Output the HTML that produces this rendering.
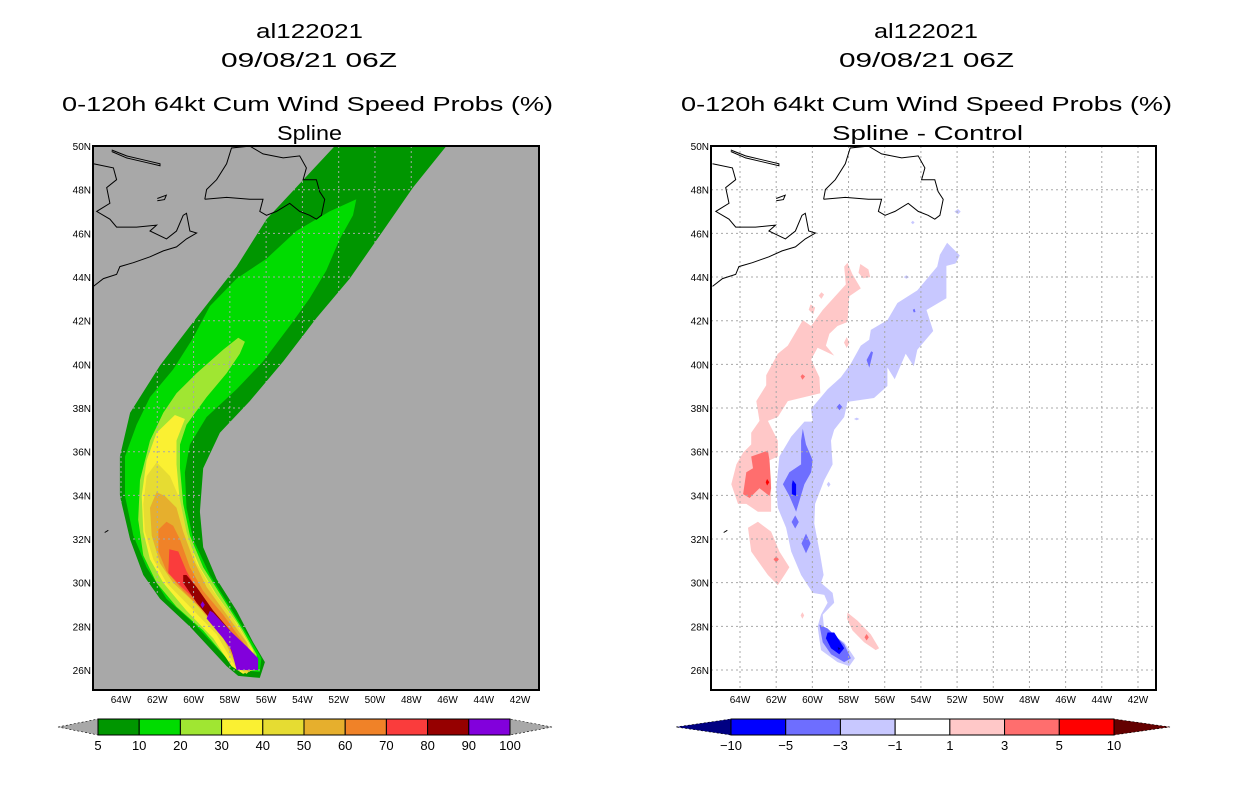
<!DOCTYPE html>
<html><head><meta charset="utf-8"><style>
body{margin:0;background:#fff;width:1236px;height:800px;overflow:hidden}
svg text{font-family:"Liberation Sans",sans-serif;fill:#000}
</style></head><body>
<svg id="svg" xmlns="http://www.w3.org/2000/svg" width="1236" height="800" viewBox="0 0 1236 800">
<defs>
<clipPath id="clipL"><rect x="93" y="146" width="446" height="544"/></clipPath>
<clipPath id="clipR"><rect x="711" y="146" width="445" height="544"/></clipPath>
</defs>
<g font-size="20">
<text x="256" y="38" textLength="107" lengthAdjust="spacingAndGlyphs">al122021</text>
<text x="221" y="67" textLength="176" lengthAdjust="spacingAndGlyphs">09/08/21 06Z</text>
<text x="62" y="111" textLength="491" lengthAdjust="spacingAndGlyphs">0-120h 64kt Cum Wind Speed Probs (%)</text>
<text x="277" y="140" textLength="65" lengthAdjust="spacingAndGlyphs">Spline</text>
</g>
<g font-size="20">
<text x="874" y="38" textLength="104" lengthAdjust="spacingAndGlyphs">al122021</text>
<text x="839" y="67" textLength="175" lengthAdjust="spacingAndGlyphs">09/08/21 06Z</text>
<text x="681" y="111" textLength="491" lengthAdjust="spacingAndGlyphs">0-120h 64kt Cum Wind Speed Probs (%)</text>
<text x="832" y="140" textLength="191" lengthAdjust="spacingAndGlyphs">Spline - Control</text>
</g>
<rect x="93" y="146" width="446" height="544" fill="#a8a8a8"/>
<g id="gL" clip-path="url(#clipL)"></g>
<g id="gR" clip-path="url(#clipR)"></g>
<rect x="93" y="146" width="446" height="544" fill="none" stroke="#000" stroke-width="2"/>
<rect x="711" y="146" width="445" height="544" fill="none" stroke="#000" stroke-width="2"/>
<g id="axes" font-size="10"></g>
<g id="cbars"></g>
</svg>
<script>
// ---------- data (lon, lat pairs) ----------
const probLevels = [5,10,20,30,40,50,60,70,80,90,100];
const probColors = ["#009600","#00dc00","#a0e632","#faf032","#e6dc32","#e6af2d","#f08228","#fa3c3c","#960000","#8200dc"];
const band5 = [[-52.22,50],[-55.98,46.65],[-57.63,44.48],[-60.02,41.94],[-61.85,39.95],[-63.5,37.78],[-64.06,35.78],[-64.06,33.97],[-63.5,31.98],[-62.77,30.35],[-61.85,29.26],[-60.2,27.99],[-58.18,26.18],[-57.54,25.73],[-56.35,25.64],[-56.07,26.36],[-56.72,27.27],[-57.63,28.72],[-58.73,30.17],[-59.47,31.62],[-59.65,33.25],[-59.47,35.24],[-58.55,36.87],[-56.9,38.32],[-55.06,40.13],[-53.23,42.12],[-51.39,43.93],[-49.56,46.11],[-47.91,48.1],[-46.07,50]];
const band10 = [[-51.03,47.56],[-52.5,47.01],[-54.33,46.11],[-55.98,44.84],[-57.63,43.93],[-59.1,42.67],[-60.02,41.22],[-61.12,39.77],[-62.4,38.5],[-63.14,37.23],[-63.78,35.78],[-63.78,33.97],[-63.32,32.16],[-62.59,30.71],[-61.49,29.26],[-60.02,28.17],[-58.18,26.54],[-57.54,26],[-56.35,25.91],[-56.26,26.54],[-56.9,27.45],[-58,28.9],[-59.1,30.35],[-60.02,31.98],[-60.39,33.43],[-60.48,35.06],[-60.2,36.33],[-59.28,37.59],[-57.63,38.86],[-56.17,40.13],[-54.7,41.76],[-53.6,43.03],[-52.68,44.3],[-51.94,45.75],[-51.21,46.83]];
const band20 = [[-57.54,41.22],[-58.37,40.67],[-59.83,39.59],[-60.94,38.68],[-61.67,37.78],[-62.4,36.51],[-62.95,34.7],[-63.05,32.88],[-62.77,31.25],[-62.04,29.99],[-60.94,28.9],[-59.47,27.81],[-58,26.36],[-57.36,25.91],[-56.44,26],[-56.53,26.72],[-57.27,27.81],[-58.37,29.26],[-59.47,30.71],[-60.2,32.16],[-60.57,33.61],[-60.75,35.24],[-60.75,36.33],[-60.39,37.23],[-59.28,38.5],[-58.18,39.59],[-57.45,40.49],[-57.17,41.04]];
const band30 = [[-61.03,37.68],[-62.04,36.87],[-62.59,35.6],[-62.86,33.97],[-62.77,32.34],[-62.4,31.07],[-61.67,29.99],[-60.39,28.72],[-58.92,27.45],[-57.91,26.18],[-57.27,25.82],[-56.53,26.09],[-56.72,26.91],[-57.63,28.17],[-58.73,29.44],[-59.65,30.71],[-60.39,32.16],[-60.75,33.61],[-60.94,35.42],[-60.94,36.51],[-60.48,37.5]];
const band40 = [[-62.04,35.51],[-62.59,34.88],[-62.77,33.61],[-62.68,32.34],[-62.22,31.07],[-61.49,29.99],[-60.2,28.9],[-58.73,27.63],[-57.72,26.18],[-57.08,25.82],[-56.62,26.18],[-56.9,27.09],[-57.82,28.36],[-58.92,29.62],[-59.83,30.89],[-60.39,32.34],[-60.75,33.79],[-61.3,34.88]];
const band50 = [[-62.04,34.15],[-62.4,33.43],[-62.31,32.16],[-61.85,30.89],[-61.12,29.99],[-59.83,28.99],[-58.46,27.63],[-57.63,26.18],[-56.9,25.91],[-56.72,26.36],[-57.08,27.27],[-58.18,28.54],[-59.28,29.8],[-60.02,31.07],[-60.57,32.34],[-60.94,33.43],[-61.58,33.97]];
const band60 = [[-61.49,32.79],[-61.94,32.43],[-61.94,31.43],[-61.49,30.53],[-60.57,29.62],[-59.47,28.72],[-58.28,27.45],[-57.54,26.18],[-56.9,26],[-56.81,26.45],[-57.27,27.27],[-58.37,28.54],[-59.47,29.62],[-60.2,30.71],[-60.75,31.98],[-61.12,32.61]];
const band70 = [[-61.34,31.53],[-61.39,30.44],[-60.66,29.8],[-59.47,28.9],[-58.18,27.45],[-57.49,26.18],[-56.9,26.04],[-56.9,26.54],[-57.45,27.27],[-58.55,28.36],[-59.65,29.44],[-60.39,30.53],[-60.84,31.43]];
const band80 = [[-60.57,30.35],[-60.57,29.99],[-59.83,29.08],[-58.73,27.99],[-58,27.09],[-57.63,26.18],[-56.9,26.09],[-56.9,26.54],[-57.63,27.45],[-58.92,28.72],[-59.83,29.8],[-60.39,30.35]];
const band90 = [[-59.1,28.72],[-59.28,28.36],[-58.37,27.45],[-57.91,26.91],[-57.63,26],[-56.44,26],[-56.44,26.54],[-57.08,27.09],[-58,27.81],[-58.92,28.63]];
const band90dot = [[-59.62,28.99],[-59.5,29.15],[-59.38,28.99],[-59.5,28.83]];
const probBands = [band5,band10,band20,band30,band40,band50,band60,band70,band80,band90];

const diffLevels = [-10,-5,-3,-1,1,3,5,10];
const diffColors = ["#0000ff","#6e6eff","#c8c8ff","#ffffff","#ffc8c8","#ff6e6e","#ff0000"];
const negLight = [[-52.55,45.57],[-51.85,44.99],[-52.09,44.62],[-52.59,44.51],[-52.59,43.03],[-53.69,42.49],[-53.32,41.53],[-54.2,40.67],[-54.39,39.91],[-54.84,40.49],[-55.45,39.32],[-55.85,39.86],[-55.85,39.01],[-56.59,38.46],[-58.06,38.28],[-58.24,37.59],[-58.79,37.01],[-58.97,36.51],[-58.88,35.42],[-59.34,34.7],[-59.85,33.61],[-59.89,32.7],[-59.56,31.25],[-59.38,30.35],[-59.52,29.99],[-58.88,29.53],[-58.79,29.08],[-59.43,28.54],[-59.34,27.81],[-58.24,27.27],[-57.65,26.54],[-57.96,26.18],[-58.61,26.36],[-59.52,26.91],[-59.71,27.99],[-59.52,28.54],[-59.16,29.08],[-59.34,29.44],[-59.98,29.53],[-60.62,30.35],[-61.17,31.43],[-61.45,32.52],[-61.91,33.43],[-62,34.33],[-61.82,35.78],[-61.17,36.69],[-60.44,37.38],[-59.98,37.38],[-60.07,37.96],[-59.16,38.86],[-58.42,39.41],[-57.87,40.04],[-57.32,40.86],[-56.86,41.13],[-56.77,41.58],[-55.85,42.03],[-55.3,42.81],[-54.2,43.39],[-53.1,44.48],[-52.95,45.02]];
const negLightBits = [[[-52.15,47.0],[-51.95,47.12],[-51.8,47.0],[-51.95,46.88]],[[-54.55,46.5],[-54.45,46.58],[-54.35,46.5],[-54.45,46.42]],[[-54.95,44.0],[-54.8,44.08],[-54.65,44.0],[-54.8,43.92]],[[-57.7,37.5],[-57.55,37.56],[-57.4,37.5],[-57.55,37.44]],[[-59.2,34.5],[-59.1,34.62],[-59.0,34.5],[-59.1,34.38]]];
const negMid = [[[-60.53,37.05],[-60.35,36.33],[-59.98,35.6],[-60.07,35.06],[-60.44,34.51],[-60.9,33.25],[-61.27,33.97],[-61.63,34.51],[-61.27,35.06],[-60.62,35.42],[-60.62,36.51]],
 [[-60.95,33.08],[-60.75,32.78],[-60.95,32.48],[-61.15,32.78]],
 [[-60.35,32.25],[-60.1,31.8],[-60.35,31.35],[-60.6,31.8]],
 [[-56.75,40.6],[-56.65,40.55],[-56.85,39.85],[-57.0,40.2]],
 [[-58.5,38.2],[-58.35,38.05],[-58.5,37.9],[-58.65,38.05]],
 [[-59.61,28.08],[-59.16,27.9],[-58.24,27.18],[-57.87,26.54],[-58.24,26.36],[-58.97,26.72],[-59.43,27.27]],
 [[-54.45,42.5],[-54.35,42.55],[-54.3,42.4],[-54.4,42.38]]];
const negDark = [[[-61.08,34.7],[-60.9,34.5],[-60.9,33.97],[-61.13,34.06],[-61.13,34.5]],
 [[-59.16,27.72],[-58.79,27.72],[-58.24,27.0],[-58.51,26.72],[-58.97,27.0],[-59.25,27.45]]];
const posLight = [[[-58.06,44.66],[-57.78,44.12],[-57.32,43.48],[-57.96,43.12],[-58.06,41.94],[-58.61,41.76],[-59.06,41.4],[-59.25,40.86],[-58.79,40.4],[-59.71,40.76],[-60.07,40.22],[-59.61,39.41],[-59.56,38.68],[-60.44,38.5],[-61.36,38.32],[-61.91,37.59],[-62.46,37.41],[-61.91,36.51],[-61.91,35.78],[-62.37,35.6],[-62.28,34.7],[-62.28,33.25],[-63.01,33.25],[-63.65,33.61],[-64.11,33.61],[-64.48,34.51],[-64.2,35.42],[-63.83,35.96],[-63.38,36.33],[-63.38,36.87],[-62.92,37.41],[-63.1,38.32],[-62.55,39.04],[-62.55,39.5],[-61.91,40.49],[-61.36,40.86],[-60.53,42.03],[-60.07,41.76],[-59.43,42.49],[-58.15,43.66],[-58.24,44.48]],
 [[-63.01,32.79],[-62.28,32.34],[-61.82,31.43],[-61.27,30.71],[-61.54,30.35],[-61.91,29.89],[-62.46,30.35],[-63.38,31.43],[-63.56,32.52]],
 [[-58.06,28.63],[-57.5,28.26],[-56.77,27.63],[-56.31,27.0],[-56.5,26.91],[-57.14,27.27],[-57.78,27.81],[-58.09,28.36]],
 [[-57.35,44.6],[-56.9,44.35],[-56.8,44.0],[-57.2,43.95],[-57.45,44.2]],
 [[-60.1,42.75],[-59.85,42.6],[-59.95,42.3],[-60.2,42.5]],
 [[-58.1,41.25],[-57.95,41.0],[-58.1,40.75],[-58.25,41.0]],
 [[-59.5,43.3],[-59.35,43.2],[-59.5,43.0],[-59.65,43.15]],
 [[-60.55,28.65],[-60.45,28.5],[-60.55,28.35],[-60.65,28.5]]];
const posMid = [[[-63.38,35.78],[-62.46,36.05],[-62.37,35.6],[-62.28,34.33],[-62.37,33.97],[-62.92,34.33],[-63.47,33.88],[-63.83,34.06],[-63.65,35.06],[-63.28,35.24]],
 [[-62.0,31.2],[-61.85,31.07],[-62.0,30.92],[-62.15,31.07]],
 [[-57.0,27.65],[-56.88,27.5],[-57.0,27.35],[-57.12,27.5]],
 [[-60.55,39.55],[-60.4,39.45],[-60.55,39.3],[-60.65,39.45]]];
const posDark = [[[-62.5,34.75],[-62.38,34.6],[-62.5,34.45],[-62.58,34.6]]];

const coastLines = [
 [[-59.38,47.56],[-59.28,48.01],[-58.73,48.46],[-58.18,49.19],[-57.91,49.91],[-56.9,50],[-56.17,49.64],[-55.06,49.46],[-54.15,49.55],[-53.78,49.0],[-53.96,48.46],[-53.23,48.46],[-53.05,47.92],[-52.77,47.56],[-52.95,46.83],[-53.23,46.65],[-53.6,46.83],[-54.15,47.01],[-54.7,47.38],[-55.43,47.01],[-55.98,46.83],[-56.35,47.01],[-56.17,47.56],[-56.9,47.56],[-58.18,47.65],[-59.38,47.56]],
 [[-65.52,49.19],[-64.42,49.0],[-64.24,48.46],[-64.79,48.1],[-64.61,47.38],[-65.34,47.01],[-64.61,46.65],[-64.24,46.29],[-63.14,46.29],[-62.04,46.38],[-62.4,46.11],[-61.49,45.75],[-60.94,46.11],[-60.57,46.83],[-60.39,46.92],[-60.2,46.11],[-59.83,46.02],[-60.39,45.75],[-60.94,45.38],[-61.67,45.2],[-62.4,44.93],[-63.32,44.66],[-64.06,44.48],[-64.24,44.12],[-64.97,43.93],[-65.52,43.57]],
 [[-64.51,49.82],[-63.69,49.55],[-62.77,49.37],[-61.85,49.19],[-61.85,49.1],[-62.77,49.28],[-63.69,49.46],[-64.51,49.75]],
 [[-62.0,47.6],[-61.5,47.75],[-61.6,47.55],[-62.0,47.5]],
 [[-64.9,32.3],[-64.7,32.4]]
];
const lonTicks = [-64,-62,-60,-58,-56,-54,-52,-50,-48,-46,-44,-42];
const latTicks = [26,28,30,32,34,36,38,40,42,44,46,48,50];
const probTickLabels = ["5","10","20","30","40","50","60","70","80","90","100"];
const diffTickLabels = ["\u221210","\u22125","\u22123","\u22121","1","3","5","10"];

// ---------- helpers ----------
const NS = "http://www.w3.org/2000/svg";
function mk(tag, attrs, parent){const e=document.createElementNS(NS,tag);for(const k in attrs)e.setAttribute(k,attrs[k]);parent.appendChild(e);return e;}
const panels = {
  L:{x:lon=>121+(lon+64)*18.14, y:lat=>670-(lat-26)*21.83, g:document.getElementById('gL'), x0:93, x1:539},
  R:{x:lon=>740+(lon+64)*18.09, y:lat=>670-(lat-26)*21.83, g:document.getElementById('gR'), x0:711, x1:1156}
};
function pts(p, poly){return poly.map(q=>p.x(q[0]).toFixed(1)+","+p.y(q[1]).toFixed(1)).join(" ");}
function poly(p, pl, fill, name){
  const e=mk('polygon',{points:pts(p,pl),fill:fill},p.g);
  
  
}
// left map
const L=panels.L, R=panels.R;
probBands.forEach((b,i)=>{poly(L,b,probColors[i],'prob-band-'+probLevels[i]);});
poly(L,band90dot,probColors[9],'prob-band-90-dot');
// right map
poly(R,negLight,diffColors[2],'diff-neg-light-main');
negLightBits.forEach(b=>poly(R,b,diffColors[2],'diff-neg-light-spot'));
negMid.forEach(b=>poly(R,b,diffColors[1],'diff-neg-mid'));
negDark.forEach(b=>poly(R,b,diffColors[0],'diff-neg-strong'));
posLight.forEach(b=>poly(R,b,diffColors[4],'diff-pos-light'));
posMid.forEach(b=>poly(R,b,diffColors[5],'diff-pos-mid'));
posDark.forEach(b=>poly(R,b,diffColors[6],'diff-pos-strong'));
poly(R,[[-58.6,27.05],[-58.45,27.0],[-58.55,26.9]],'#000082','diff-neg-extreme');
// grid + coast
[L,R].forEach((p,pi)=>{
  lonTicks.forEach(v=>{const x=p.x(v);
    const l=mk('line',{x1:x,x2:x,y1:146,y2:690,stroke:'#a8a8a8','stroke-width':1,'stroke-dasharray':'2,3'},p.g);
    
    });
  latTicks.forEach(v=>{const y=p.y(v);
    const l=mk('line',{x1:p.x0,x2:p.x1,y1:y,y2:y,stroke:'#a8a8a8','stroke-width':1,'stroke-dasharray':'2,3'},p.g);
    
    });
  coastLines.forEach(c=>{
    const e=mk('polyline',{points:pts(p,c),fill:'none',stroke:'#000','stroke-width':1},p.g);
    
    });
});
// axes labels
const ax=document.getElementById('axes');
[L,R].forEach((p,pi)=>{
  lonTicks.forEach(v=>{
    const t=mk('text',{x:p.x(v),y:703,'text-anchor':'middle'},ax);t.textContent=Math.abs(v)+"W";
    
    });
  latTicks.forEach(v=>{
    const t=mk('text',{x:p.x0-2,y:p.y(v)+4,'text-anchor':'end'},ax);t.textContent=v+"N";
    
    });
});
// colorbars
const cb=document.getElementById('cbars');
function colorbar(x0,x1,colors,labels,triL,triR,triXL,triXR,name){
  const g=mk('g',{},cb);
  
  
  const n=colors.length, w=(x1-x0)/n;
  mk('polygon',{points:`${triXL},727 ${x0},719 ${x0},735`,fill:triL,stroke:'#000','stroke-width':0.6,'stroke-dasharray':'2,2'},g);
  mk('polygon',{points:`${triXR},727 ${x1},719 ${x1},735`,fill:triR,stroke:'#000','stroke-width':0.6,'stroke-dasharray':'2,2'},g);
  colors.forEach((c,i)=>{
    const r=mk('rect',{x:x0+i*w,y:719,width:w,height:16,fill:c,stroke:'#000','stroke-width':1},g);
    
    });
  labels.forEach((s,i)=>{
    const t=mk('text',{x:x0+i*w,y:750,'text-anchor':'middle','font-size':13},g);t.textContent=s;
    
    });
}
colorbar(98,510,probColors,probTickLabels,'#a8a8a8','#a8a8a8',58,552,'prob-colorbar');
colorbar(731,1114,diffColors,diffTickLabels,'#000082','#640000',676,1170,'diff-colorbar');
</script>
</body></html>
